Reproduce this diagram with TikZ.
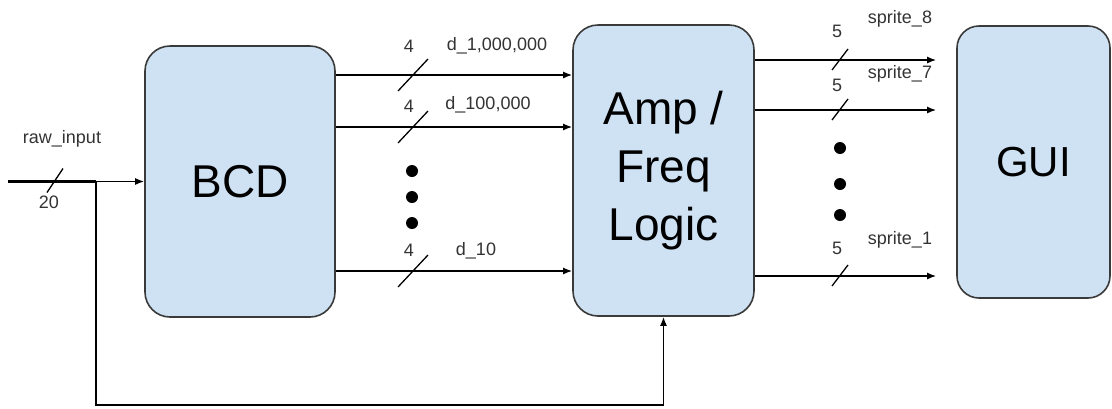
\documentclass[tikz,border=0pt]{standalone}
\usepackage{fontspec}
\setmainfont{Liberation Sans}
\usetikzlibrary{arrows.meta,calc}
\definecolor{boxfill}{HTML}{CFE2F3}
\definecolor{boxline}{HTML}{3A3A3A}
\definecolor{labelgray}{HTML}{333333}
\tikzset{
  block/.style={draw=boxline, fill=boxfill, line width=1.6pt, rounded corners=25pt,
    inner sep=0pt, font=\fontsize{46}{58}\selectfont, align=center},
  wire/.style={draw=black, line width=1.6pt},
  arr/.style={wire, -{Latex[length=9pt,width=7pt]}},
  buswidth/.style={draw=black, line width=1.3pt},
  lbl/.style={text=labelgray, font=\fontsize{18}{22}\selectfont, inner sep=0pt},
  dotmark/.style={fill=black}
}
\begin{document}
\begin{tikzpicture}[x=1pt,y=-1pt]
\useasboundingbox (0,0) rectangle (1112,408);

% functional blocks
\node[block, minimum width=190pt, minimum height=271pt] (bcd) at (240,181.5) {BCD};
\node[block, minimum width=181pt, minimum height=291pt] (amp) at (663.5,170.5) {Amp /\\Freq\\Logic};
\node[block, minimum width=153pt, minimum height=272pt, rounded corners=22pt,
      font=\fontsize{42}{50}\selectfont] (gui) at (1033.5,162) {GUI};

% row heights of the buses
\coordinate (r1) at (0,75);
\coordinate (r2) at (0,127);
\coordinate (r3) at (0,271);
\coordinate (q1) at (0,60);
\coordinate (q2) at (0,110);
\coordinate (q3) at (0,276);

% raw input and feedback path
\coordinate (in) at (8,181.5);
\coordinate (tap) at (96,181.5);
\coordinate (fb) at (96,405);
\draw[wire, line width=3pt] (in) -- (tap);
\draw[arr] (tap) -- (bcd.west |- tap);
\draw[arr] (tap) -- (fb) -| (amp.south);
\draw[buswidth] (55,180.5) ++(-8,12) -- ++(16,-24);
\node[lbl] (rawlbl) at (62,139) {raw\_input};
\node[lbl] (rawn) at (49,202) {20};

% BCD digit buses
\draw[arr] (bcd.east |- r1) -- (amp.west |- r1);
\draw[arr] (bcd.east |- r2) -- (amp.west |- r2);
\draw[arr] (bcd.east |- r3) -- (amp.west |- r3);
\foreach \y in {75,127,271}
  \draw[buswidth] (413,\y) ++(-15,16) -- ++(30,-32);
\node[lbl] (n1) at (409,46) {4};
\node[lbl] (d1) at (497,46) {d\_1,000,000};
\node[lbl] (n2) at (409,106) {4};
\node[lbl] (d2) at (488,105) {d\_100,000};
\node[lbl] (n3) at (409,250) {4};
\node[lbl] (d3) at (476,251) {d\_10};
\foreach \y in {171,197,223}
  \fill[dotmark] (412,\y) circle (6pt);

% sprite buses
\draw[arr] (amp.east |- q1) -- ($(gui.west |- q1)+(-20,0)$);
\draw[arr] (amp.east |- q2) -- ($(gui.west |- q2)+(-20,0)$);
\draw[arr] (amp.east |- q3) -- ($(gui.west |- q3)+(-20,0)$);
\foreach \y in {60,110,276}
  \draw[buswidth] (840,\y) ++(-8,10) -- ++(16,-21);
\node[lbl] (m1) at (837,31) {5};
\node[lbl] (s8) at (900,19) {sprite\_8};
\node[lbl] (m2) at (837,85) {5};
\node[lbl] (s7) at (900,74) {sprite\_7};
\node[lbl] (m3) at (837,248) {5};
\node[lbl] (s1) at (900,240) {sprite\_1};
\foreach \y in {148,184,215}
  \fill[dotmark] (840,\y) circle (6pt);
\end{tikzpicture}
\end{document}
